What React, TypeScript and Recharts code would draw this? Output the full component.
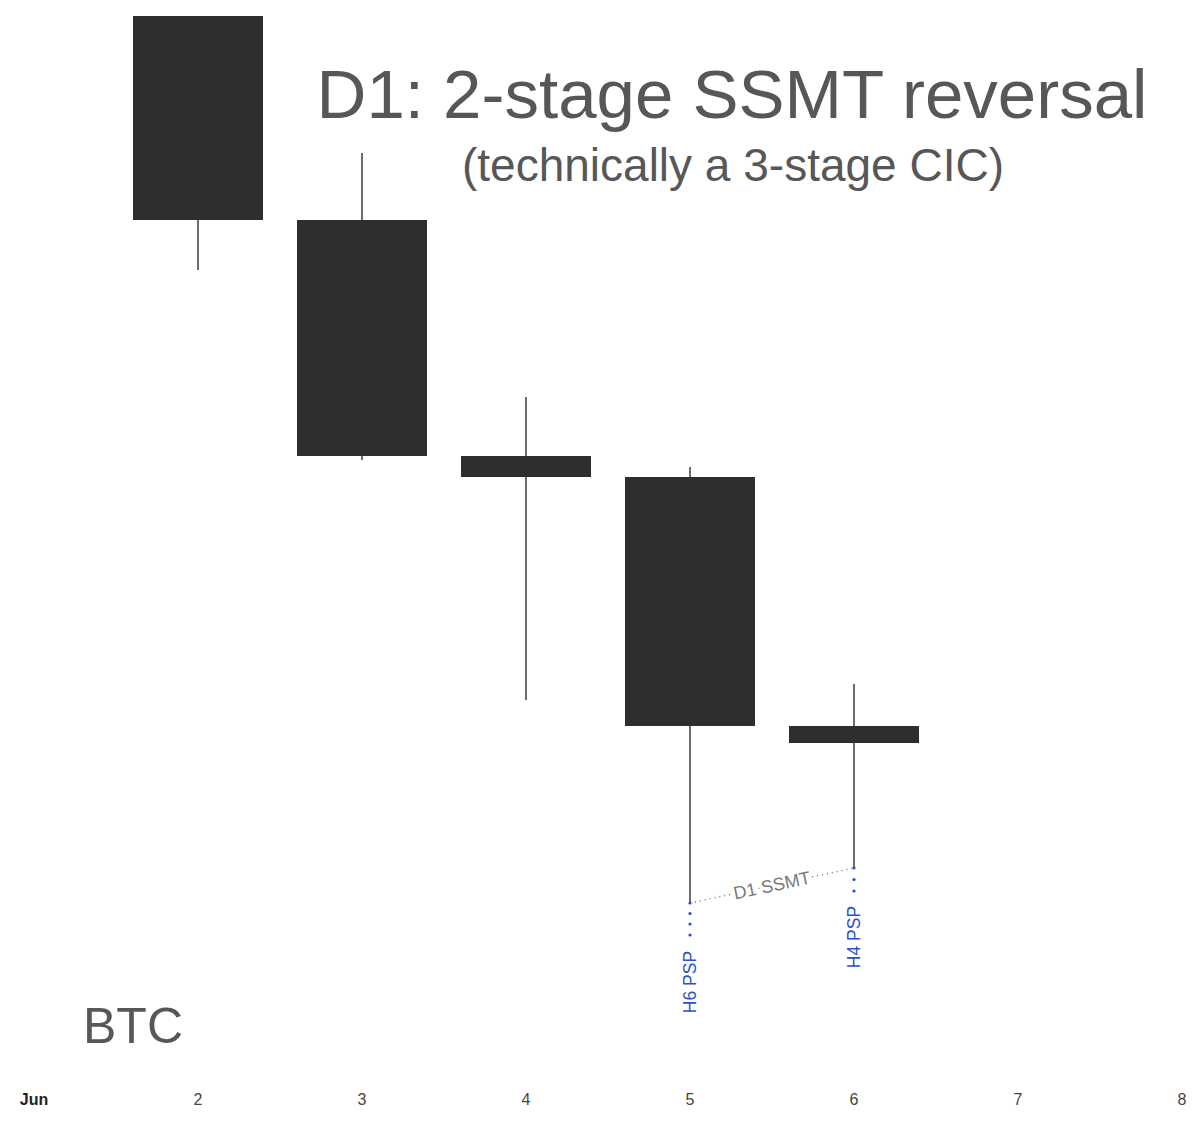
import { Bar, ComposedChart, ReferenceDot, ReferenceLine, XAxis, YAxis } from "recharts";

// daily BTC candles, Jun 2 - Jun 6
const days = [2, 3, 4, 5, 6];
const opens = [106320, 105300, 104120, 104015, 102770];
const highs = [106320, 105635, 104415, 104065, 102980];
const lows = [105050, 104100, 102900, 101885, 102060];
const closes = [105300, 104120, 104015, 102770, 102685];

const dayTicks = [1, 2, 3, 4, 5, 6, 7, 8];
const tickLabels = ["Jun", "2", "3", "4", "5", "6", "7", "8"];

const data = days.map((day, i) => ({
  day,
  open: opens[i],
  high: highs[i],
  low: lows[i],
  close: closes[i],
}));

const FONT = '"Liberation Sans", Arial, Helvetica, sans-serif';
const BLUE = "#2a4fd0";

function CandleShape(props: any) {
  const { x, y, width, height, payload } = props;
  const { open, close, high, low } = payload;
  const top = Math.min(y, y + height);
  const h = Math.abs(height);
  const k = h / (high - low);
  const bodyTop = top + (high - Math.max(open, close)) * k;
  const bodyBottom = top + (high - Math.min(open, close)) * k;
  const cx = x + width / 2;
  return (
    <g>
      <line x1={cx} x2={cx} y1={top} y2={top + h} stroke="#2e2e2e" strokeWidth={1.4} />
      <rect x={x} y={bodyTop} width={width} height={Math.max(1, bodyBottom - bodyTop)} fill="#2e2e2e" />
    </g>
  );
}

function DayTick(props: any) {
  const { x, y, payload, index } = props;
  const first = index === 0;
  return (
    <text
      x={x}
      y={y}
      dy={25}
      textAnchor="middle"
      fontFamily={FONT}
      fontSize={16}
      fontWeight={first ? 700 : 400}
      fill={first ? "#222" : "#444"}
    >
      {tickLabels[dayTicks.indexOf(payload.value)]}
    </text>
  );
}

function pspMarker(label: string, dotOffsets: number[], textOffset: number) {
  return (props: any) => {
    const { cx, cy } = props;
    const tx = cx + 6;
    const ty = cy + textOffset;
    return (
      <g>
        <circle cx={cx} cy={cy} r={1.6} fill={BLUE} />
        {dotOffsets.map((d) => (
          <circle key={d} cx={cx} cy={cy + d} r={1.6} fill={BLUE} />
        ))}
        <text
          x={tx}
          y={ty}
          textAnchor="middle"
          fontFamily={FONT}
          fontSize={17.5}
          fill={BLUE}
          transform={`rotate(-90, ${tx}, ${ty})`}
        >
          {label}
        </text>
      </g>
    );
  };
}

function SsmtLabel(props: any) {
  const { cx, cy } = props;
  return (
    <text
      x={cx}
      y={cy}
      dy={6}
      textAnchor="middle"
      fontFamily={FONT}
      fontSize={18}
      fill="#7a7a7a"
      stroke="#fff"
      strokeWidth={6}
      paintOrder="stroke"
      transform={`rotate(-12, ${cx}, ${cy})`}
    >
      D1 SSMT
    </text>
  );
}

export default function App() {
  return (
    <div style={{ position: "absolute", left: 0, top: 0, width: 1200, height: 1130, background: "#fff" }}>
      <ComposedChart width={1200} height={1130} data={data} margin={{ top: 0, right: 18, bottom: 0, left: 34 }}>
        <XAxis
          dataKey="day"
          type="number"
          domain={[1, 8]}
          ticks={dayTicks}
          axisLine={false}
          tickLine={false}
          tickSize={0}
          tickMargin={0}
          height={50}
          interval={0}
          tick={<DayTick />}
        />
        <YAxis hide domain={[101000, 106400]} />
        <Bar
          dataKey={(d: any) => [d.low, d.high]}
          barSize={130}
          shape={<CandleShape />}
          isAnimationActive={false}
        />
        <ReferenceLine
          segment={[
            { x: days[3], y: lows[3] },
            { x: days[4], y: lows[4] },
          ]}
          stroke="#777"
          strokeWidth={1.5}
          strokeDasharray="1 4"
        />
        <ReferenceDot
          x={(days[3] + days[4]) / 2}
          y={(lows[3] + lows[4]) / 2}
          shape={<SsmtLabel />}
        />
        <ReferenceDot x={days[3]} y={lows[3]} shape={pspMarker("H6 PSP", [10.5, 21, 32], 79)} />
        <ReferenceDot x={days[4]} y={lows[4]} shape={pspMarker("H4 PSP", [11.5, 23], 69)} />
      </ComposedChart>
      <svg
        width={1200}
        height={1130}
        style={{ position: "absolute", left: 0, top: 0, pointerEvents: "none" }}
      >
        <text x={732} y={118} textAnchor="middle" fontFamily={FONT} fontSize={69} fill="#575757">
          D1: 2-stage SSMT reversal
        </text>
        <text x={733} y={181} textAnchor="middle" fontFamily={FONT} fontSize={46} fill="#575757">
          (technically a 3-stage CIC)
        </text>
        <text x={83} y={1043} fontFamily={FONT} fontSize={50} fill="#575757">
          BTC
        </text>
      </svg>
    </div>
  );
}
